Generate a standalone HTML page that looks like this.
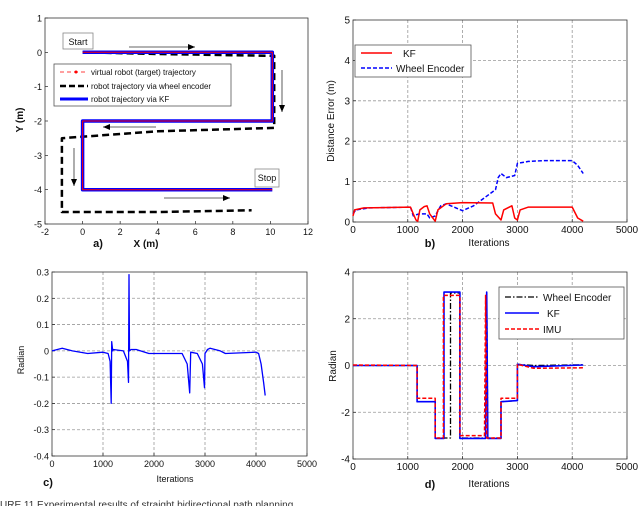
<!DOCTYPE html>
<html><head><meta charset="utf-8"><style>
body{margin:0;background:#fff;}
svg{display:block;font-family:"Liberation Sans",sans-serif;}
</style></head><body>
<svg id="fig" width="640" height="506" viewBox="0 0 640 506"></svg>
<script>
// ---- data ----
const aTargetX=[0,10.1,10.1,0,0,10.1];
const aTargetY=[0,0,-2,-2,-4,-4];
const aEncX=[0,4,10,10.2,10.2,4,-1.1,-1.1,4,9];
const aEncY=[0,-0.05,-0.1,-0.1,-2.2,-2.3,-2.5,-4.65,-4.65,-4.6];
const bIter=[0,30,200,1050,1100,1150,1180,1220,1300,1350,1400,1500,1550,1700,2000,2550,2600,2700,2750,2900,2950,3000,3050,3200,4000,4100,4200];
const bKF=[0.15,0.3,0.35,0.37,0.2,0.05,0.02,0.3,0.38,0.4,0.2,0.02,0.3,0.45,0.48,0.47,0.2,0.05,0.3,0.4,0.1,0.05,0.3,0.37,0.37,0.1,0.02];
const bEncIter=[0,50,300,1050,1100,1200,1350,1400,1500,1600,1700,2000,2200,2500,2600,2650,2700,2800,2950,3000,3200,3500,4000,4100,4200];
const bEnc=[0.2,0.3,0.35,0.37,0.15,0.2,0.2,0.1,0.15,0.4,0.45,0.28,0.4,0.7,0.8,1.1,1.2,1.1,1.15,1.45,1.5,1.52,1.52,1.4,1.2];
const cIter=[0,200,400,700,1000,1100,1140,1160,1170,1190,1200,1400,1480,1500,1510,1520,1550,1650,1900,2550,2650,2700,2720,2850,2950,2990,3000,3050,3100,3300,3400,4000,4050,4100,4150,4180];
const cVal=[0,0.01,0,-0.01,-0.005,-0.01,-0.04,-0.2,0.035,0,0.005,0,-0.04,-0.12,0.29,0,0.005,0.005,-0.01,-0.01,-0.05,-0.16,-0.005,-0.01,-0.05,-0.14,-0.01,0.005,0.01,0,-0.01,-0.005,-0.01,-0.05,-0.12,-0.17];
const dKFIter=[0,1170,1170,1500,1500,1660,1660,1950,1950,2420,2440,2460,2700,2700,3000,3000,3300,4200];
const dKF=[0,0,-1.55,-1.55,-3.12,-3.12,3.14,3.14,-3.12,-3.12,3.14,-3.12,-3.12,-1.55,-1.5,0.05,-0.05,0.02];
const dEncIter=[0,1170,1170,1500,1500,1780,1780,1950,1950,2420,2440,2460,2700,2700,3000,3000,3300,4200];
const dEnc=[0,0,-1.55,-1.55,-3.1,-3.1,3.1,3.1,-3.1,-3.1,3.1,-3.1,-3.1,-1.55,-1.5,0.05,0,0.03];
const dIMUIter=[0,1170,1170,1500,1500,1650,1650,1950,1950,2400,2420,2440,2700,2700,3000,3000,3300,4200];
const dIMU=[0.02,0,-1.4,-1.4,-3.1,-3.1,3.0,3.0,-3.0,-3.0,3.0,-3.1,-3.1,-1.4,-1.4,0.05,-0.12,-0.1];
const bTicksX=[0,1000,2000,3000,4000,5000];
const aTicksX=[-2,0,2,4,6,8,10,12], aTicksY=[1,0,-1,-2,-3,-4,-5];
const bTicksY=[0,1,2,3,4,5], cTicksY=[0.3,0.2,0.1,0,-0.1,-0.2,-0.3,-0.4], dTicksY=[4,2,0,-2,-4];

const svg=document.getElementById('fig');
const NS='http://www.w3.org/2000/svg';
function mk(tag,attrs,parent,name){const e=document.createElementNS(NS,tag);for(const k in attrs)e.setAttribute(k,attrs[k]);


(parent||svg).appendChild(e);return e;}
function txt(x,y,s,name,opts){const t=mk('text',Object.assign({x:x,y:y,'font-size':10,'text-anchor':'middle',fill:'#111'},opts||{}),svg,name);t.textContent=s;return t;}

function axes(p){
  const g=mk('g',{},svg,p.name);
  p.sx=v=>p.l+(v-p.x0)/(p.x1-p.x0)*(p.r-p.l);
  p.sy=v=>p.b-(v-p.y0)/(p.y1-p.y0)*(p.b-p.t);
  mk('rect',{x:p.l,y:p.t,width:p.r-p.l,height:p.b-p.t,fill:'#fff',stroke:'none'},g,'plot-area');
  p.xt.forEach(v=>{const x=p.sx(v);
    if(p.grid&&v!==p.x0&&v!==p.x1)mk('line',{x1:x,x2:x,y1:p.t,y2:p.b,stroke:'#999','stroke-dasharray':'3,2','stroke-width':0.8},g,'grid-line-x');
    mk('line',{x1:x,x2:x,y1:p.b,y2:p.b-3,stroke:'#000','stroke-width':0.6},g,'x-tick');
    txt(x,p.b+11,String(v),'x-tick-label',{'font-size':p.fs||10});});
  p.yt.forEach(v=>{const y=p.sy(v);
    if(p.grid&&v!==p.y0&&v!==p.y1)mk('line',{x1:p.l,x2:p.r,y1:y,y2:y,stroke:'#999','stroke-dasharray':'3,2','stroke-width':0.8},g,'grid-line-y');
    mk('line',{x1:p.l,x2:p.l+3,y1:y,y2:y,stroke:'#000','stroke-width':0.6},g,'y-tick');
    txt(p.l-3,y+3.5,String(v),'y-tick-label',{'font-size':p.fs||10,'text-anchor':'end'});});
  mk('rect',{x:p.l,y:p.t,width:p.r-p.l,height:p.b-p.t,fill:'none',stroke:'#333','stroke-width':0.8},g,'axes-frame');
  return p;
}
function line(p,xs,ys,style,name){
  const pts=xs.map((x,i)=>p.sx(x).toFixed(1)+','+p.sy(ys[i]).toFixed(1)).join(' ');
  return mk('polyline',Object.assign({points:pts,fill:'none','stroke-linejoin':'round'},style),svg,name);
}

// Panel a
const A=axes({name:'panel-a',l:45,r:308,t:18,b:224,x0:-2,x1:12,y0:-5,y1:1,xt:aTicksX,yt:aTicksY,grid:false,fs:9});
line(A,aEncX,aEncY,{stroke:'#000','stroke-width':2.5,'stroke-dasharray':'7,4'},'encoder-trajectory');
line(A,aTargetX,aTargetY,{stroke:'#00f','stroke-width':3.5},'kf-trajectory');
line(A,aTargetX,aTargetY,{stroke:'#f00','stroke-width':1},'target-trajectory');
// arrows
[[129,47,195,47],[282,70,282,112],[156,127,103,127],[74,148,74,186],[164,198,230,198]].forEach(a=>{
  mk('line',{x1:a[0],y1:a[1],x2:a[2],y2:a[3],stroke:'#333','stroke-width':0.8},svg,'direction-arrow');
  const ang=Math.atan2(a[3]-a[1],a[2]-a[0]);
  const p=(d,o)=>[a[2]-d*Math.cos(ang)+o*Math.sin(ang),a[3]-d*Math.sin(ang)-o*Math.cos(ang)];
  const p1=p(7,3),p2=p(7,-3);
  mk('polygon',{points:`${a[2]},${a[3]} ${p1} ${p2}`,fill:'#000'},svg,'arrow-head');
});
mk('rect',{x:63,y:33,width:30,height:16,fill:'#fff',stroke:'#888','stroke-width':0.8},svg,'start-box');
txt(78,45,'Start','start-label',{'font-size':9});
mk('rect',{x:255,y:169,width:24,height:18,fill:'#fff',stroke:'#888','stroke-width':0.8},svg,'stop-box');
txt(267,181,'Stop','stop-label',{'font-size':9});
mk('rect',{x:54,y:64,width:177,height:42,fill:'#fff',stroke:'#555','stroke-width':0.8},svg,'legend-a');
mk('line',{x1:60,x2:88,y1:72,y2:72,stroke:'#f00','stroke-width':0.8,'stroke-dasharray':'4,3'},svg,'legend-target-line');
mk('circle',{cx:76,cy:72,r:1.5,fill:'#f00'},svg,'legend-target-marker');
txt(91,75,'virtual robot (target) trajectory','legend-target-label',{'font-size':8,'text-anchor':'start'});
mk('line',{x1:60,x2:88,y1:86,y2:86,stroke:'#000','stroke-width':2.5,'stroke-dasharray':'6,3'},svg,'legend-encoder-line');
txt(91,89,'robot trajectory via wheel encoder','legend-encoder-label',{'font-size':8,'text-anchor':'start'});
mk('line',{x1:60,x2:88,y1:99,y2:99,stroke:'#00f','stroke-width':3},svg,'legend-kf-line');
txt(91,102,'robot trajectory via    KF','legend-kf-label',{'font-size':8,'text-anchor':'start'});
txt(98,247,'a)','panel-a-tag',{'font-size':11,'font-weight':'bold'});
txt(146,247,'X (m)','x-axis-title-a',{'font-size':10,'font-weight':'bold'});
txt(0,0,'Y (m)','y-axis-title-a',{'font-size':10,'font-weight':'bold',transform:'translate(23,120) rotate(-90)'});

// Panel b
const B=axes({name:'panel-b',l:353,r:627,t:20,b:222,x0:0,x1:5000,y0:0,y1:5,xt:bTicksX,yt:bTicksY,grid:true});
line(B,bEncIter,bEnc,{stroke:'#00f','stroke-width':1.5,'stroke-dasharray':'4,2'},'encoder-error-line');
line(B,bIter,bKF,{stroke:'#f00','stroke-width':1.5},'kf-error-line');
mk('rect',{x:355,y:45,width:116,height:32,fill:'#fff',stroke:'#555','stroke-width':0.8},svg,'legend-b');
mk('line',{x1:361,x2:392,y1:53,y2:53,stroke:'#f00','stroke-width':1.5},svg,'legend-kf-line');
txt(403,57,'KF','legend-kf-label',{'font-size':10,'text-anchor':'start'});
mk('line',{x1:361,x2:392,y1:68,y2:68,stroke:'#00f','stroke-width':1.5,'stroke-dasharray':'4,2'},svg,'legend-encoder-line');
txt(396,72,'Wheel Encoder','legend-encoder-label',{'font-size':10,'text-anchor':'start'});
txt(430,247,'b)','panel-b-tag',{'font-size':11,'font-weight':'bold'});
txt(489,246,'Iterations','x-axis-title-b',{'font-size':10});
txt(0,0,'Distance Error (m)','y-axis-title-b',{'font-size':10,transform:'translate(334,121) rotate(-90)'});

// Panel c
const C=axes({name:'panel-c',l:52,r:307,t:272,b:456,x0:0,x1:5000,y0:-0.4,y1:0.3,xt:bTicksX,yt:cTicksY,grid:true,fs:9});
line(C,cIter,cVal,{stroke:'#00f','stroke-width':1.3},'heading-error-line');
txt(48,486,'c)','panel-c-tag',{'font-size':11,'font-weight':'bold'});
txt(175,482,'Iterations','x-axis-title-c',{'font-size':9,'transform':'scale(1,1)'});
txt(0,0,'Radian','y-axis-title-c',{'font-size':9,transform:'translate(24,360) rotate(-90)'});

// Panel d
const D=axes({name:'panel-d',l:353,r:627,t:272,b:459,x0:0,x1:5000,y0:-4,y1:4,xt:bTicksX,yt:dTicksY,grid:true});
line(D,dEncIter,dEnc,{stroke:'#000','stroke-width':1.3,'stroke-dasharray':'6,2,1.5,2'},'encoder-heading-line');
line(D,dKFIter,dKF,{stroke:'#00f','stroke-width':1.6},'kf-heading-line');
line(D,dIMUIter,dIMU,{stroke:'#f00','stroke-width':1.5,'stroke-dasharray':'4,2'},'imu-heading-line');
mk('rect',{x:499,y:287,width:125,height:52,fill:'#fff',stroke:'#555','stroke-width':0.8},svg,'legend-d');
mk('line',{x1:505,x2:539,y1:297,y2:297,stroke:'#000','stroke-width':1.3,'stroke-dasharray':'6,2,1.5,2'},svg,'legend-encoder-line');
txt(543,301,'Wheel Encoder','legend-encoder-label',{'font-size':10,'text-anchor':'start'});
mk('line',{x1:505,x2:539,y1:313,y2:313,stroke:'#00f','stroke-width':1.6},svg,'legend-kf-line');
txt(547,317,'KF','legend-kf-label',{'font-size':10,'text-anchor':'start'});
mk('line',{x1:505,x2:539,y1:329,y2:329,stroke:'#f00','stroke-width':1.5,'stroke-dasharray':'4,2'},svg,'legend-imu-line');
txt(543,333,'IMU','legend-imu-label',{'font-size':10,'text-anchor':'start'});
txt(430,488,'d)','panel-d-tag',{'font-size':11,'font-weight':'bold'});
txt(489,487,'Iterations','x-axis-title-d',{'font-size':10});
txt(0,0,'Radian','y-axis-title-d',{'font-size':10,transform:'translate(336,366) rotate(-90)'});

txt(0,508,'URE 11    Experimental results of straight bidirectional path planning','caption',{'font-size':10,'text-anchor':'start',fill:'#333'});
</script>
</body></html>
